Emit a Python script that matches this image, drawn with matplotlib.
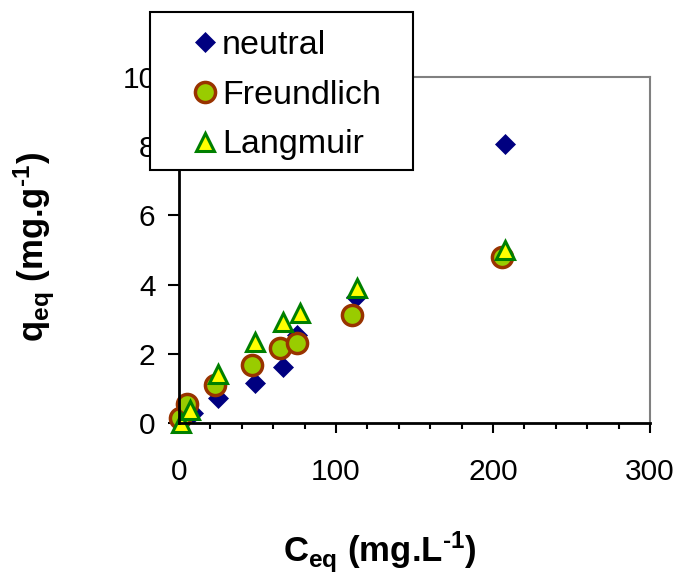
import matplotlib
matplotlib.use('Agg')
import matplotlib.pyplot as plt
from matplotlib.patches import Rectangle

plt.rcParams['font.family'] = ['Liberation Sans', 'DejaVu Sans']
plt.rcParams['mathtext.fontset'] = 'custom'
plt.rcParams['mathtext.rm'] = 'Liberation Sans:bold'
plt.rcParams['mathtext.bf'] = 'Liberation Sans:bold'
plt.rcParams['mathtext.default'] = 'bf'

# ДАННЫЕ
neutral_x = [1.0, 8.7, 24.6, 48.5, 66.5, 75.4, 112.5, 207.5]
neutral_y = [0.05, 0.28, 0.71, 1.15, 1.63, 2.54, 3.65, 8.06]
freund_x = [0.5, 5.0, 22.9, 46.8, 64.4, 75.4, 110.4, 205.7]
freund_y = [0.14, 0.55, 1.10, 1.68, 2.16, 2.32, 3.12, 4.81]
lang_x = [1.3, 7.2, 25.0, 48.5, 66.3, 77.1, 113.6, 207.5]
lang_y = [0.0, 0.37, 1.43, 2.35, 2.93, 3.17, 3.89, 5.00]

W, H = 676, 580
fig = plt.figure(figsize=(W / 100, H / 100), dpi=100)
ax = fig.add_axes([179 / W, 1 - 423 / H, 471 / W, 346 / H])

ax.plot(neutral_x, neutral_y, 'D', color='#000080', ms=10, mec='#000080', mew=0.5,
        label='neutral', clip_on=False)
ax.plot(freund_x, freund_y, 'o', color='#99cc00', ms=14.5, mec='#993300', mew=2.5,
        label='Freundlich', clip_on=False)
ax.plot(lang_x, lang_y, '^', color='#ffff00', ms=13.5, mec='#008000', mew=2.2,
        label='Langmuir', clip_on=False)

ax.set_xlim(0, 300)
ax.set_ylim(0, 10)
ax.set_xticks([0, 100, 200, 300])
ax.set_xticks(range(0, 301, 20), minor=True)
ax.set_yticks([0, 2, 4, 6, 8, 10])

for s in ['left', 'bottom']:
    ax.spines[s].set_linewidth(2)
    ax.spines[s].set_color('black')
for s in ['top', 'right']:
    ax.spines[s].set_linewidth(1.5)
    ax.spines[s].set_color('#808080')

ax.tick_params(axis='x', which='major', direction='out', length=7, width=1.5,
               labelsize=21.5, pad=18)
ax.tick_params(axis='x', which='minor', direction='out', length=4.5, width=1.5)
ax.tick_params(axis='y', which='major', direction='out', length=8, width=1.5,
               labelsize=21.5, pad=9)

ax.set_xlabel(r'C$_{eq}$ (mg.L$^{\text{-}1}$)', fontsize=25, fontweight='bold')
ax.set_ylabel(r'q$_{eq}$ (mg.g$^{\text{-}1}$)', fontsize=25, fontweight='bold')
ax.xaxis.set_label_coords((380 - 179) / 471, -(530 - 423) / 346)
ax.yaxis.set_label_coords(-(179 - 57) / 471, (423 - 247) / 346)

# ЛЕГЕНДА
box = Rectangle((150 / W, 1 - 170 / H), 263 / W, 158 / H, transform=fig.transFigure,
                facecolor='white', edgecolor='black', linewidth=1.5, zorder=4)
fig.patches.append(box)
handles, labels = ax.get_legend_handles_labels()
leg = fig.legend(handles, labels, loc='upper left', bbox_to_anchor=(188 / W, 1 - 30 / H),
                 fontsize=24.5, frameon=False, handlelength=1.0, handletextpad=0.0,
                 borderpad=0, borderaxespad=0, labelspacing=0.55)
leg.set_zorder(5)

fig.savefig('out.png', dpi=100)
